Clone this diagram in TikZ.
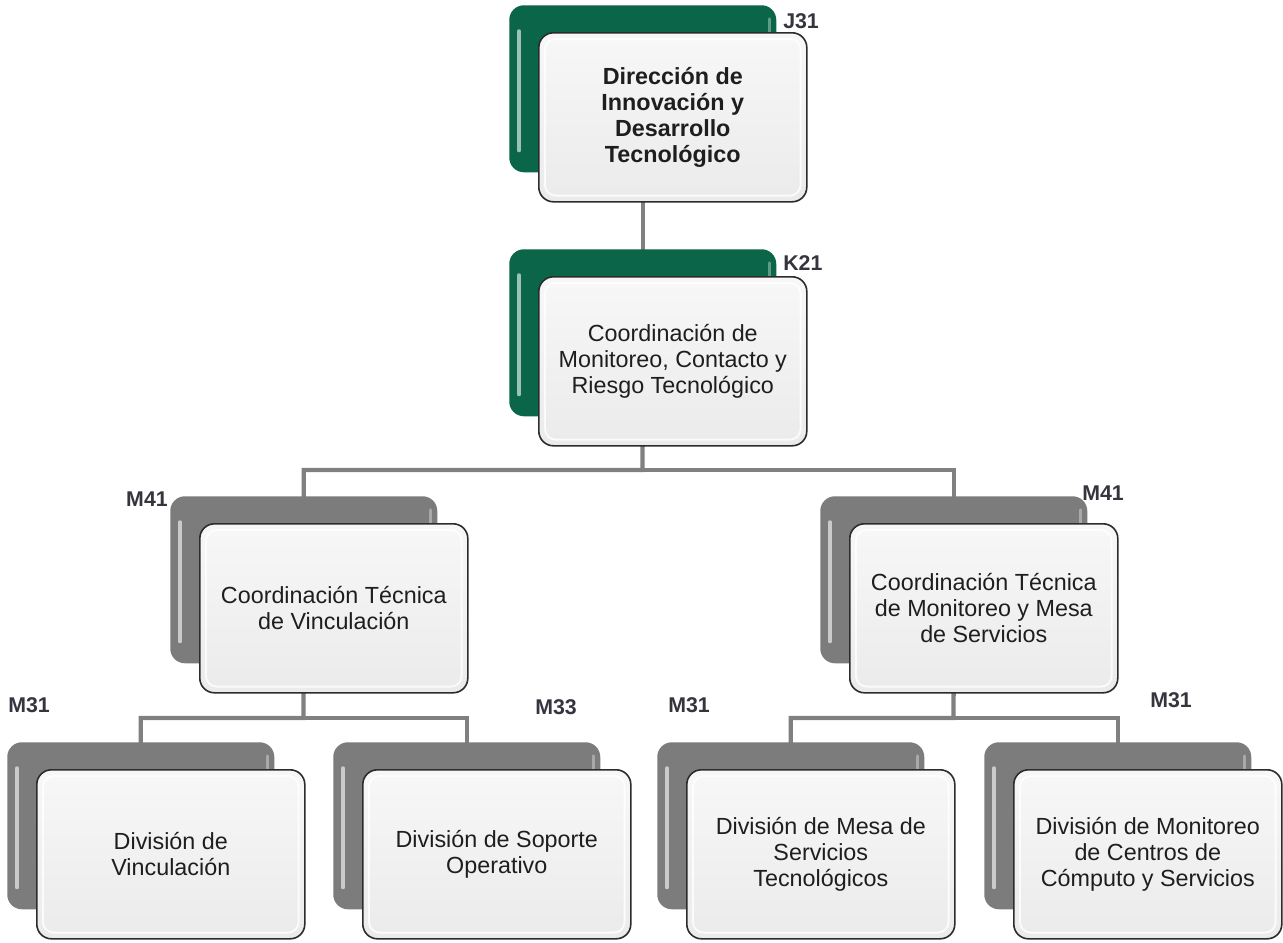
\documentclass[tikz,border=0pt]{standalone}
\usepackage{fontspec}
\setmainfont{Liberation Sans}
\usetikzlibrary{backgrounds}
\definecolor{dgreen}{HTML}{0B6649}
\definecolor{bgray}{HTML}{7C7C7C}
\definecolor{edgec}{HTML}{2C2C2C}
\definecolor{connc}{HTML}{808080}
\definecolor{labc}{HTML}{35353F}
\definecolor{txtc}{HTML}{1E1E1E}
\tikzset{
  backbox/.style={draw=none, rounded corners=11pt, anchor=north west, inner sep=0pt,
    minimum width=200.25pt, minimum height=125.25pt},
  hilite/.style={draw=white, draw opacity=0.6, line width=2.6pt, line cap=round},
  frontbox/.style={draw=edgec, line width=1.2pt, rounded corners=11pt, anchor=north west,
    top color=white!97!black, bottom color=white!92!black, inner sep=2pt,
    minimum width=201pt, minimum height=126.75pt, align=center, text=txtc,
    font=\fontsize{17.5}{19.6}\selectfont},
  inrim/.style={draw=white, line width=1.4pt, rounded corners=8pt, draw opacity=0.8},
  conn/.style={draw=connc, line width=3.3pt},
  lab/.style={font=\fontsize{16}{18}\selectfont\bfseries, text=labc, inner sep=0pt}
}
\newcommand\orgbox[5]{%
  \node[backbox, fill=#4] (#1b) at (#2,#3) {};
  \draw[hilite] ([shift={(10,26)}]#1b.north west) -- ([shift={(10,-22)}]#1b.south west);
  \draw[hilite, draw opacity=0.35] ([shift={(-7,14)}]#1b.north east) -- ([shift={(-7,40)}]#1b.north east);
  \node[frontbox] (#1) at ([shift={(29,27)}]#1b.north west) {#5};
  \draw[inrim] ([shift={(7,7)}]#1.north west) rectangle ([shift={(-7,-7)}]#1.south east);
}
\begin{document}
\begin{tikzpicture}[x=0.75pt,y=-0.75pt]
\useasboundingbox (0,0) rectangle (1283,943);

\orgbox{j31}{509}{5}{dgreen}{\bfseries Dirección de\\\bfseries Innovación y\\\bfseries Desarrollo\\\bfseries Tecnológico}
\orgbox{k21}{509}{249}{dgreen}{Coordinación de\\Monitoreo, Contacto y\\Riesgo Tecnológico}
\orgbox{mvin}{170}{496}{bgray}{Coordinación Técnica\\de Vinculación}
\orgbox{mmon}{820}{496}{bgray}{Coordinación Técnica\\de Monitoreo y Mesa\\de Servicios}
\orgbox{dvin}{7}{742}{bgray}{División de\\Vinculación}
\orgbox{dsop}{333}{742}{bgray}{División de Soporte\\Operativo}
\orgbox{dmes}{657}{742}{bgray}{División de Mesa de\\Servicios\\Tecnológicos}
\orgbox{dcen}{984}{742}{bgray}{División de Monitoreo\\de Centros de\\Cómputo y Servicios}

\node[lab, anchor=west] (lj31) at (783,21) {J31};
\node[lab, anchor=west] (lk21) at (783,263) {K21};
\node[lab, anchor=east] (lmvin) at (168,499) {M41};
\node[lab, anchor=west] (lmmon) at (1082,493) {M41};
\node[lab, anchor=west] (ldvin) at (8,705) {M31};
\node[lab, anchor=west] (ldsop) at (535,707) {M33};
\node[lab, anchor=west] (ldmes) at (668,705) {M31};
\node[lab, anchor=west] (ldcen) at (1150,700) {M31};

\coordinate (bus1) at (642.5,470);
\coordinate (bus2) at (303.5,718);
\coordinate (bus3) at (953.5,718);
\begin{scope}[on background layer]
  \fill[white] (0,0) rectangle (1283,943);
  \draw[conn] (j31b.center) -- (k21b.center);
  \draw[conn] (k21b.center) -- (bus1) -| (mvinb.center);
  \draw[conn] (bus1) -| (mmonb.center);
  \draw[conn] (mvinb.center) -- (bus2) -| (dvinb.center);
  \draw[conn] (bus2) -| (dsopb.center);
  \draw[conn] (mmonb.center) -- (bus3) -| (dmesb.center);
  \draw[conn] (bus3) -| (dcenb.center);
\end{scope}
\end{tikzpicture}
\end{document}
